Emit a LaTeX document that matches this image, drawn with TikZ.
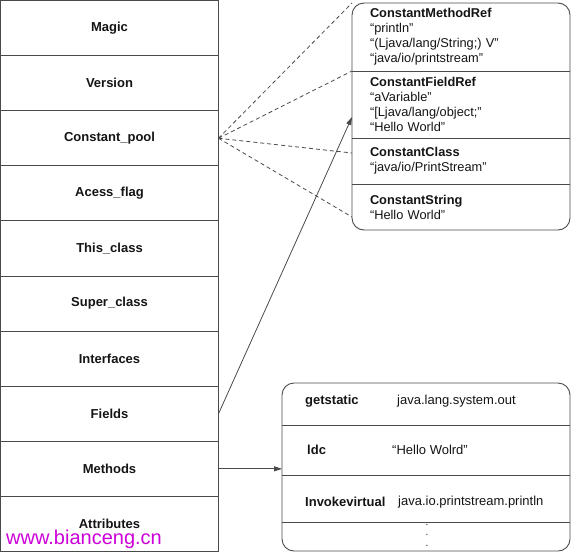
\documentclass[tikz,border=0pt]{standalone}
\usepackage{fontspec}
\setmainfont{Liberation Sans}
\usetikzlibrary{arrows.meta,calc,positioning}
\definecolor{edge}{HTML}{4A4A4A}
\definecolor{ink}{HTML}{141414}
\definecolor{stamp}{HTML}{CC00D8}
\tikzset{
  field/.style={
    draw=edge,
    line width=0.9pt,
    minimum width=218pt,
    minimum height=55.1pt,
    inner sep=0pt,
    outer sep=0pt,
    anchor=north west,
    text=ink,
    font=\bfseries\fontsize{13}{15}\selectfont
  },
  entry/.style={
    minimum width=218pt,
    text width=182pt,
    inner xsep=18pt,
    inner ysep=0pt,
    outer sep=0pt,
    anchor=north west,
    align=left,
    text=ink,
    font=\fontsize{12.8}{15}\selectfont
  },
  oprow/.style={
    minimum width=288pt,
    inner sep=0pt,
    outer sep=0pt,
    anchor=north west
  },
  opcode/.style={
    text=ink,
    anchor=west,
    inner sep=0pt,
    font=\bfseries\fontsize{13}{15}\selectfont
  },
  operand/.style={
    text=ink,
    anchor=west,
    inner sep=0pt,
    font=\fontsize{13}{15}\selectfont
  },
  panel/.style={
    draw=edge,
    line width=0.9pt,
    rounded corners=12pt
  },
  divider/.style={
    draw=edge,
    line width=0.9pt
  },
  link/.style={
    draw=edge,
    line width=0.8pt,
    dash pattern=on 4pt off 3pt
  },
  jump/.style={
    -{Triangle[length=8pt,width=5pt]},
    draw=edge,
    line width=0.8pt
  },
  site/.style={
    text=stamp,
    anchor=west,
    inner sep=0pt,
    font=\fontsize{20}{24}\selectfont
  }
}
\begin{document}
\begin{tikzpicture}[x=1pt,y=-1pt]
  \useasboundingbox (0,0) rectangle (572,552);

  % Class file layout
  \node[field] (magic) at (0.5,0.5) {Magic};
  \node[field, below=0pt of magic] (version) {Version};
  \node[field, below=0pt of version] (cpool) {Constant\_pool};
  \node[field, below=0pt of cpool] (access) {Acess\_flag};
  \node[field, below=0pt of access] (thisclass) {This\_class};
  \node[field, below=0pt of thisclass] (superclass) {Super\_class};
  \node[field, below=0pt of superclass] (interfaces) {Interfaces};
  \node[field, below=0pt of interfaces] (fields) {Fields};
  \node[field, below=0pt of fields] (methods) {Methods};
  \node[field, below=0pt of methods] (attributes) {Attributes};

  % Constant pool entries
  \node[entry, minimum height=68pt] (sec1) at (352,3)
    {\textbf{ConstantMethodRef}\\
     “println”\\
     “(Ljava/lang/String;) V”\\
     “java/io/printstream”};
  \node[entry, minimum height=67pt, below=0pt of sec1] (sec2)
    {\textbf{ConstantFieldRef}\\
     “aVariable”\\
     “[Ljava/lang/object;”\\
     “Hello World”};
  \node[entry, minimum height=46pt, below=0pt of sec2] (sec3)
    {\textbf{ConstantClass}\\
     “java/io/PrintStream”};
  \node[entry, minimum height=46pt, below=0pt of sec3] (sec4)
    {\textbf{ConstantString}\\
     “Hello World”};
  \draw[panel] (sec1.north west) rectangle (sec4.south east);
  \draw[divider] (sec2.north west) -- (sec2.north east);
  \draw[divider] (sec3.north west) -- (sec3.north east);
  \draw[divider] (sec4.north west) -- (sec4.north east);

  % Method bytecode
  \node[oprow, minimum height=42pt] (code1) at (282,383) {};
  \node[oprow, minimum height=50pt, below=0pt of code1] (code2) {};
  \node[oprow, minimum height=47pt, below=0pt of code2] (code3) {};
  \node[oprow, minimum height=29pt, below=0pt of code3] (code4) {};
  \draw[panel] (code1.north west) rectangle (code4.south east);
  \draw[divider] (code2.north west) -- (code2.north east);
  \draw[divider] (code3.north west) -- (code3.north east);
  \draw[divider] (code4.north west) -- (code4.north east);

  \node[opcode] (getstatic) at (305,401) {getstatic};
  \node[operand] (sysout) at (397,401) {java.lang.system.out};
  \node[opcode] (ldc) at (307,450) {ldc};
  \node[operand] (hello) at (392,450) {“Hello Wolrd”};
  \node[opcode] (invoke) at (305,502) {Invokevirtual};
  \node[operand] (println) at (398,502) {java.io.printstream.println};
  \node[operand, anchor=center, align=center,
        font=\fontsize{10}{10.5}\selectfont] (more) at (427,535) {.\\.\\.};

  % References
  \draw[link] (cpool.east) -- (sec1.north west);
  \draw[link] (cpool.east) -- (sec2.north west);
  \draw[link] (cpool.east) -- ($(sec3.west)+(0,-8)$);
  \draw[link] (cpool.east) -- ($(sec4.west)+(0,10)$);
  \draw[jump] (fields.east) -- ($(sec2.west)+(0,12.5)$);
  \draw[jump] (methods.east) -- (code2.west |- methods.east);

  \node[site] (url) at (6,539) {www.bianceng.cn};
\end{tikzpicture}
\end{document}
